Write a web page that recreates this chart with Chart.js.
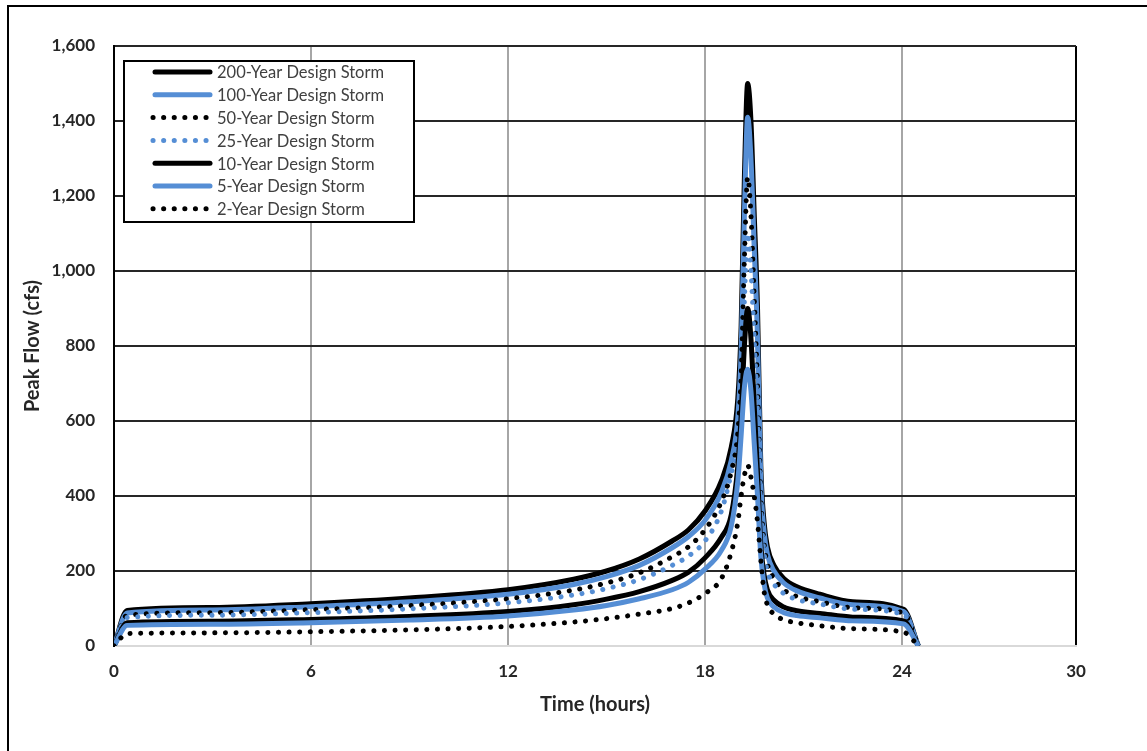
<!DOCTYPE html>
<html>
<head>
<meta charset="utf-8">
<script src="https://cdn.jsdelivr.net/npm/chart.js@4/dist/chart.umd.min.js"></script>
<style>
  html, body { margin: 0; padding: 0; background: #fff; }
  #wrap { width: 1147px; height: 751px; position: relative; }
</style>
</head>
<body>
<div id="wrap"><canvas id="chart"></canvas></div>
<script>
// time axis (hours) shared by every hydrograph
const hours = [0, 0.4, 3, 6, 9, 12, 14, 15, 16, 17, 17.5, 18, 18.5, 18.8, 19, 19.1, 19.2, 19.3, 19.4, 19.5, 19.6, 19.7, 19.8, 19.9, 20.1, 20.4, 20.8, 21.5, 22.5, 24.05, 24.5];

// peak flow (cfs) per design storm
const flow200 = [0, 95, 103, 113, 128, 150, 178, 200, 232, 280, 310, 360, 440, 530, 660, 850, 1250, 1500, 1400, 1150, 900, 480, 330, 265, 215, 180, 158, 138, 118, 98, 0];
const flow100 = [0, 88, 96, 105, 118, 138, 164, 185, 215, 262, 292, 335, 410, 495, 610, 780, 1150, 1410, 1300, 1060, 820, 440, 305, 245, 200, 168, 147, 128, 110, 92, 0];
const flow50  = [0, 82, 89, 97, 108, 126, 149, 168, 195, 238, 265, 310, 385, 465, 570, 720, 1030, 1250, 1150, 930, 700, 400, 275, 220, 180, 150, 132, 118, 102, 88, 0];
const flow25  = [0, 76, 82, 89, 99, 115, 136, 153, 177, 215, 240, 280, 360, 460, 540, 660, 920, 1100, 1000, 820, 620, 365, 250, 200, 165, 140, 124, 112, 98, 84, 0];
const flow10  = [0, 62, 66, 71, 79, 92, 110, 125, 145, 175, 197, 235, 290, 350, 480, 613, 800, 900, 820, 640, 460, 270, 190, 150, 122, 104, 94, 87, 77, 67, 0];
const flow5   = [0, 55, 58, 62, 69, 80, 96, 108, 126, 150, 170, 205, 255, 320, 440, 560, 690, 738, 680, 540, 400, 240, 165, 128, 104, 89, 81, 75, 67, 59, 0];
const flow2   = [0, 33, 35, 38, 43, 52, 64, 73, 85, 100, 115, 140, 180, 250, 330, 400, 455, 482, 450, 400, 330, 230, 145, 110, 85, 70, 62, 54, 46, 37, 0];

const stormNames = ['200-Year Design Storm', '100-Year Design Storm', '50-Year Design Storm',
  '25-Year Design Storm', '10-Year Design Storm', '5-Year Design Storm', '2-Year Design Storm'];

// axis ticks
const xTickValues = [0, 6, 12, 18, 24];
const xTickLabels = ['0', '6', '12', '18', '24', '30'];
const xAxisEnd = 29.3; // the "30" label sits on the right edge of the plot in the original
const yTickValues = [0, 200, 400, 600, 800, 1000, 1200, 1400, 1600];

const BLACK = '#000000';
const BLUE = '#558ed5';

function makeSet(label, values, color, dotted, i) {
  return {
    label: label,
    data: hours.map((h, k) => ({ x: h, y: values[k] })),
    borderColor: color,
    backgroundColor: color,
    borderWidth: 5,
    borderDash: dotted ? [0.1, 10.5] : [],
    borderCapStyle: dotted ? 'round' : 'butt',
    borderJoinStyle: 'round',
    cubicInterpolationMode: 'monotone',
    pointRadius: 0,
    fill: false,
    order: 10 - i // later series painted on top, like Excel
  };
}

const datasets = [
  makeSet(stormNames[0], flow200, BLACK, false, 0),
  makeSet(stormNames[1], flow100, BLUE, false, 1),
  makeSet(stormNames[2], flow50, BLACK, true, 2),
  makeSet(stormNames[3], flow25, BLUE, true, 3),
  makeSet(stormNames[4], flow10, BLACK, false, 4),
  makeSet(stormNames[5], flow5, BLUE, false, 5),
  makeSet(stormNames[6], flow2, BLACK, true, 6)
];

// outer frame of the picture
const framePlugin = {
  id: 'frame',
  beforeDraw(chart) {
    const ctx = chart.ctx;
    ctx.save();
    ctx.fillStyle = '#fff';
    ctx.fillRect(0, 0, chart.width, chart.height);
    ctx.strokeStyle = '#000';
    ctx.lineWidth = 2;
    ctx.beginPath();
    ctx.moveTo(8, chart.height);
    ctx.lineTo(8, 6);
    ctx.lineTo(chart.width, 6);
    ctx.stroke();
    ctx.restore();
  }
};

// boxed legend inside the plot, top-left
const boxLegend = {
  id: 'boxLegend',
  afterDatasetsDraw(chart) {
    const ctx = chart.ctx;
    const x0 = 124, y0 = 61, w = 290, h = 161;
    const rowH = 22.8;
    ctx.save();
    ctx.fillStyle = '#fff';
    ctx.fillRect(x0, y0, w, h);
    ctx.strokeStyle = '#000';
    ctx.lineWidth = 2;
    ctx.strokeRect(x0, y0, w, h);
    ctx.font = '16.5px Lato, "Open Sans", sans-serif';
    ctx.textBaseline = 'middle';
    ctx.fillStyle = '#404040';
    chart.data.datasets.forEach((ds, i) => {
      const cy = y0 + 11 + i * rowH;
      ctx.strokeStyle = ds.borderColor;
      ctx.lineWidth = 5;
      ctx.setLineDash(ds.borderDash);
      ctx.lineCap = 'round';
      ctx.beginPath();
      if (ds.borderDash.length) {
        ctx.moveTo(153, cy);
        ctx.lineTo(208, cy);
      } else {
        ctx.moveTo(155, cy);
        ctx.lineTo(210, cy);
      }
      ctx.stroke();
      ctx.setLineDash([]);
      ctx.fillText(ds.label, 217, cy + 1);
    });
    ctx.restore();
  }
};

const tickFont = { family: 'Lato, "Open Sans", sans-serif', size: 17, weight: 'bold' };
const titleFont = { family: 'Lato, "Open Sans", sans-serif', size: 20, weight: 'bold' };

new Chart(document.getElementById('chart'), {
  type: 'line',
  data: { datasets: datasets },
  plugins: [framePlugin, boxLegend],
  options: {
    responsive: true,
    maintainAspectRatio: false,
    animation: false,
    layout: { padding: { left: 10, top: 46, right: 71, bottom: 0 } },
    plugins: { legend: { display: false }, tooltip: { enabled: false } },
    scales: {
      x: {
        type: 'linear',
        min: 0,
        max: xAxisEnd,
        afterBuildTicks(scale) {
          scale.ticks = xTickValues.concat([xAxisEnd]).map(v => ({ value: v }));
        },
        afterFit(scale) { scale.height = 105; },
        ticks: {
          font: tickFont,
          color: '#262626',
          padding: 15,
          maxRotation: 0,
          autoSkip: false,
          callback: (v, i) => xTickLabels[i]
        },
        grid: {
          drawTicks: false,
          lineWidth: 2,
          color: ctx => ctx.index === 0 || ctx.index === xTickValues.length ? '#000' : '#a6a6a6'
        },
        border: { display: true, color: '#d9d9d9', width: 2 },
        title: { display: true, text: 'Time (hours)', font: titleFont, color: '#262626', padding: { top: 0, bottom: 34 } }
      },
      y: {
        min: 0,
        max: 1600,
        afterBuildTicks(scale) {
          scale.ticks = yTickValues.map(v => ({ value: v }));
        },
        afterFit(scale) { scale.width = 104; },
        ticks: {
          font: tickFont,
          color: '#262626',
          padding: 19,
          callback: v => v.toLocaleString('en-US')
        },
        grid: {
          drawTicks: false,
          lineWidth: 2,
          color: ctx => ctx.tick && ctx.tick.value === 0 ? '#d9d9d9' : '#262626'
        },
        border: { display: true, color: '#000', width: 2 },
        title: { display: true, text: 'Peak Flow (cfs)', font: titleFont, color: '#262626', padding: { top: 11, bottom: 0 } }
      }
    }
  }
});
</script>
</body>
</html>
